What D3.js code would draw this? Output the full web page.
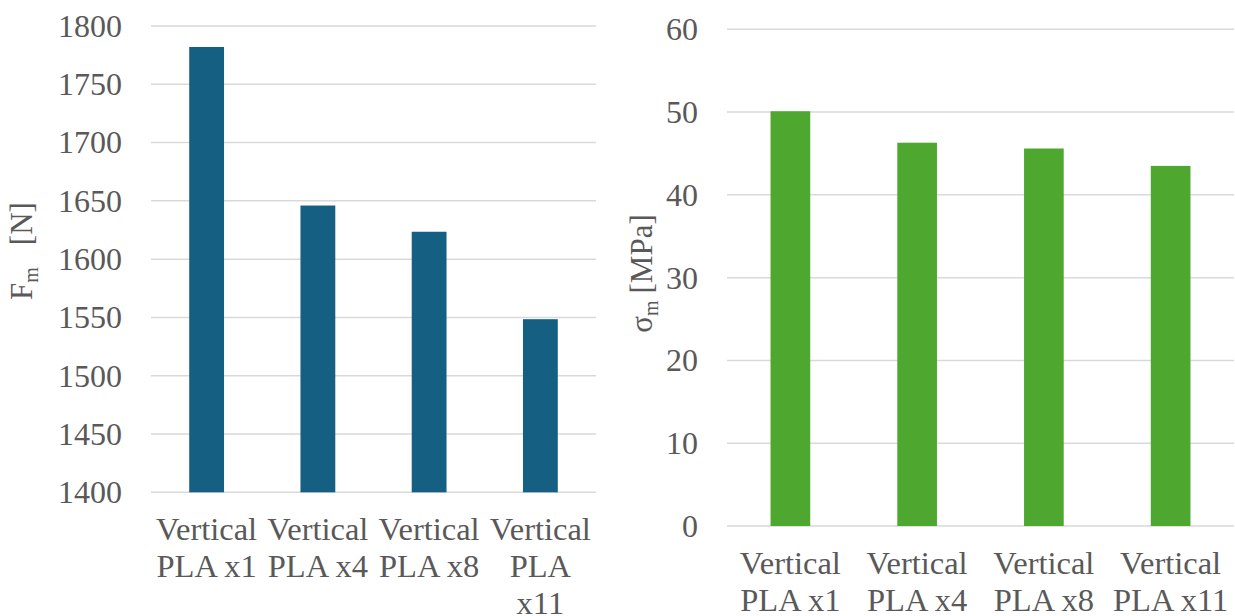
<!DOCTYPE html>
<html>
<head>
<meta charset="utf-8">
<script src="https://cdn.jsdelivr.net/npm/d3@7"></script>
<style>
  html, body { margin: 0; padding: 0; background: #ffffff; }
  svg { display: block; }
</style>
</head>
<body>
<svg id="chart" width="1235" height="616"></svg>
<script>
// ---- data ----
const categories = ["Vertical PLA x1", "Vertical PLA x4", "Vertical PLA x8", "Vertical PLA x11"];
const forceValues = [1782, 1646, 1623.5, 1548.5];
const stressValues = [50.1, 46.3, 45.6, 43.5];
const forceTicks = [1400, 1450, 1500, 1550, 1600, 1650, 1700, 1750, 1800];
const stressTicks = [0, 10, 20, 30, 40, 50, 60];

const FONT = "'Liberation Serif', 'Times New Roman', Times, 'DejaVu Serif', serif";
const svg = d3.select("#chart")
  .attr("font-family", FONT)
  .style("font-family", FONT);

function wrap(textSel, width) {
  textSel.each(function () {
    const text = d3.select(this);
    const words = text.text().split(/\s+/);
    const x = text.attr("x");
    const y = text.attr("y");
    const lh = 36.7;
    text.text(null);
    let line = [];
    let lineNo = 0;
    let tspan = text.append("tspan").attr("x", x).attr("y", y);
    for (const w of words) {
      line.push(w);
      tspan.text(line.join(" "));
      if (tspan.node().getComputedTextLength() > width && line.length > 1) {
        line.pop();
        tspan.text(line.join(" "));
        line = [w];
        lineNo++;
        tspan = text.append("tspan").attr("x", x).attr("y", +y + lineNo * lh).text(w);
      }
    }
  });
}

function panel(cfg) {
  const g = svg.append("g").style("font-family", FONT).attr("fill", "#595959");
  const x = d3.scaleBand().domain(categories).range([cfg.left, cfg.right]).padding(0);
  const y = d3.scaleLinear().domain(cfg.domain).range([cfg.bottom, cfg.top]);
  const bw = x.bandwidth() * 0.313;

  // gridlines
  g.selectAll("line.grid").data(cfg.ticks).join("line")
    .attr("class", "grid")
    .attr("x1", cfg.left).attr("x2", cfg.right)
    .attr("y1", d => y(d)).attr("y2", d => y(d))
    .attr("stroke", "#d9d9d9").attr("stroke-width", 1.5);

  // y tick labels
  g.selectAll("text.ytick").data(cfg.ticks).join("text")
    .attr("class", "ytick")
    .attr("x", cfg.left - 29)
    .attr("y", d => y(d))
    .attr("dy", "0.34em")
    .attr("text-anchor", "end")
    .style("font-family", FONT)
    .style("font-size", "32px")
    .attr("fill", "#595959")
    .text(d => d);

  // bars
  g.selectAll("rect.bar").data(cfg.values).join("rect")
    .attr("class", "bar")
    .attr("x", (d, i) => x(categories[i]) + (x.bandwidth() - bw) / 2)
    .attr("width", bw)
    .attr("y", d => y(d))
    .attr("height", d => y(cfg.domain[0]) - y(d))
    .attr("fill", cfg.color);

  // x labels
  g.selectAll("text.xlab").data(categories).join("text")
    .attr("class", "xlab")
    .attr("x", d => x(d) + x.bandwidth() / 2)
    .attr("y", cfg.bottom + 48)
    .attr("text-anchor", "middle")
    .style("font-family", FONT)
    .style("font-size", "32.5px")
    .attr("fill", "#595959")
    .text(d => d)
    .call(wrap, x.bandwidth() * 0.975);

  // y title
  const t = g.append("text")
    .attr("transform", `translate(${cfg.titleX},${cfg.titleY}) rotate(-90)`)
    .attr("text-anchor", "middle")
    .style("font-family", FONT)
    .style("font-size", "31px")
    .attr("fill", "#595959");
  t.append("tspan").text(cfg.titleMain);
  t.append("tspan").attr("dy", 6).style("font-size", "20px").text("m");
  t.append("tspan").attr("dy", -6).attr("dx", cfg.titleGap).text(cfg.titleUnit);
}

panel({
  left: 151, right: 596, top: 26, bottom: 492.3,
  domain: [1400, 1800], ticks: forceTicks, values: forceValues,
  color: "#156082",
  titleX: 32, titleY: 251, titleMain: "F", titleUnit: "[N]", titleGap: 22
});

panel({
  left: 727, right: 1234, top: 29.3, bottom: 526,
  domain: [0, 60], ticks: stressTicks, values: stressValues,
  color: "#4ea72e",
  titleX: 652, titleY: 273.5, titleMain: "σ", titleUnit: "[MPa]", titleGap: 7
});
</script>
</body>
</html>
